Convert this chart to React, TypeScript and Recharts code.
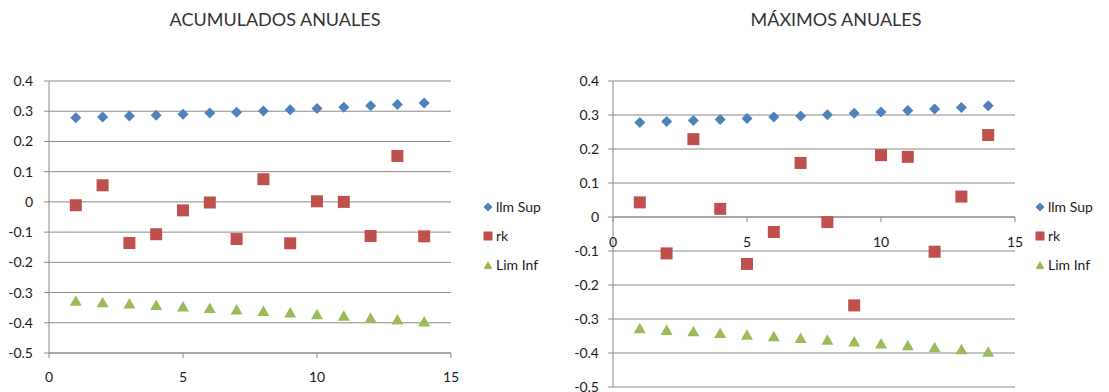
import { ScatterChart, Scatter, XAxis, YAxis, CartesianGrid, ReferenceLine } from 'recharts';

const years = [1, 2, 3, 4, 5, 6, 7, 8, 9, 10, 11, 12, 13, 14];
const limSup = [0.278, 0.281, 0.284, 0.287, 0.29, 0.294, 0.297, 0.301, 0.305, 0.309, 0.313, 0.318, 0.322, 0.327];
const limInf = [-0.327, -0.332, -0.336, -0.341, -0.346, -0.351, -0.356, -0.361, -0.366, -0.372, -0.377, -0.383, -0.389, -0.396];
const rkAcumulados = [-0.011, 0.055, -0.136, -0.107, -0.028, -0.002, -0.123, 0.075, -0.137, 0.002, 0.0, -0.113, 0.152, -0.114];
const rkMaximos = [0.043, -0.107, 0.229, 0.024, -0.138, -0.044, 0.159, -0.015, -0.26, 0.182, 0.177, -0.102, 0.06, 0.241];
const xTicks = [0, 5, 10, 15];
const yTicks = [-0.5, -0.4, -0.3, -0.2, -0.1, 0, 0.1, 0.2, 0.3, 0.4];
const seriesNames = ['llm Sup', 'rk', 'Lim Inf'];

const BLUE = '#4F81BD';
const RED = '#C0504D';
const GREEN = '#9BBB59';
const AXIS = '#8a8a8a';
const TXT = '#1a1a1a';
const FS = 14;

const toPoints = (vals: number[]) => years.map((x, i) => ({ x, y: vals[i] }));

const fmt = (v: number) => String(Math.round(v * 10) / 10);

const Diamond = (p: any) => (
  <path d={`M${p.cx},${p.cy - 5.5}L${p.cx + 5.5},${p.cy}L${p.cx},${p.cy + 5.5}L${p.cx - 5.5},${p.cy}Z`} fill={BLUE} />
);
const Square = (p: any) => <rect x={p.cx - 6} y={p.cy - 6} width={12} height={12} fill={RED} />;
const Triangle = (p: any) => (
  <path d={`M${p.cx},${p.cy - 5.5}L${p.cx + 6},${p.cy + 5}L${p.cx - 6},${p.cy + 5}Z`} fill={GREEN} />
);

const LegendBox = ({ left }: { left: number }) => {
  const icons = [
    <path d="M5,0.5L9.5,5L5,9.5L0.5,5Z" fill={BLUE} />,
    <rect x={0.5} y={0.5} width={9} height={9} fill={RED} />,
    <path d="M5,1L9.5,9L0.5,9Z" fill={GREEN} />,
  ];
  return (
    <div style={{ position: 'absolute', left, top: 192 }}>
      {seriesNames.map((n, i) => (
        <div key={n} style={{ display: 'flex', alignItems: 'center', height: 29, fontSize: 14, color: TXT }}>
          <svg width={10} height={10} style={{ marginRight: 3 }}>
            {icons[i]}
          </svg>
          {n}
        </div>
      ))}
    </div>
  );
};

// right chart: x axis crosses at y = 0
const RIGHT_H = 392;
const RIGHT_MARGIN = { top: 81, right: 94, bottom: 4, left: 0 };
const plotH = RIGHT_H - RIGHT_MARGIN.top - RIGHT_MARGIN.bottom - 1;
const zeroOffset = (plotH * (0 - yTicks[0])) / (yTicks[yTicks.length - 1] - yTicks[0]);

const ZeroTick = (p: any) => {
  const y0 = p.y - zeroOffset;
  return (
    <g>
      <line x1={p.x} x2={p.x} y1={y0} y2={y0 + 5} stroke={AXIS} />
      <text x={p.x} y={y0 + 30} textAnchor="middle" fontSize={FS} fill={TXT}>
        {p.payload.value}
      </text>
    </g>
  );
};

export default function App() {
  return (
    <div style={{ position: 'absolute', left: 0, top: 0, width: 1109, height: 392, background: '#fff', fontFamily: 'Lato' }}>
      <div style={{ position: 'absolute', left: 0, width: 550, top: 8, textAlign: 'center', fontSize: 18, color: '#333' }}>
        ACUMULADOS ANUALES
      </div>
      <div style={{ position: 'absolute', left: 560, width: 552, top: 8, textAlign: 'center', fontSize: 18, color: '#333' }}>
        MÁXIMOS ANUALES
      </div>

      <div style={{ position: 'absolute', left: 0, top: 0 }}>
        <ScatterChart width={555} height={392} margin={{ top: 81, right: 104, bottom: 0, left: 0 }}>
          <CartesianGrid vertical={false} stroke={AXIS} />
          <XAxis
            type="number"
            dataKey="x"
            domain={[0, 15]}
            ticks={xTicks}
            interval={0}
            height={39}
            stroke={AXIS}
            tickSize={5}
            tickMargin={14}
            tick={{ fill: TXT, fontSize: FS }}
          />
          <YAxis
            type="number"
            dataKey="y"
            domain={[-0.5, 0.4]}
            ticks={yTicks}
            interval={0}
            width={49}
            stroke={AXIS}
            tickSize={5}
            tickMargin={11}
            tickFormatter={fmt}
            tick={{ fill: TXT, fontSize: FS }}
          />
          <Scatter name="llm Sup" data={toPoints(limSup)} shape={Diamond} isAnimationActive={false} />
          <Scatter name="rk" data={toPoints(rkAcumulados)} shape={Square} isAnimationActive={false} />
          <Scatter name="Lim Inf" data={toPoints(limInf)} shape={Triangle} isAnimationActive={false} />
        </ScatterChart>
      </div>
      <LegendBox left={483} />

      <div style={{ position: 'absolute', left: 555, top: 0 }}>
        <ScatterChart width={554} height={RIGHT_H} margin={RIGHT_MARGIN}>
          <CartesianGrid vertical={false} stroke={AXIS} />
          <XAxis
            type="number"
            dataKey="x"
            domain={[0, 15]}
            ticks={xTicks}
            interval={0}
            height={1}
            axisLine={false}
            tickLine={false}
            tickSize={0}
            tickMargin={0}
            tick={ZeroTick}
          />
          <YAxis
            type="number"
            dataKey="y"
            domain={[-0.5, 0.4]}
            ticks={yTicks}
            interval={0}
            width={58}
            stroke={AXIS}
            tickSize={5}
            tickMargin={9}
            tickFormatter={fmt}
            tick={{ fill: TXT, fontSize: FS }}
          />
          <ReferenceLine y={0} stroke={AXIS} />
          <Scatter name="llm Sup" data={toPoints(limSup)} shape={Diamond} isAnimationActive={false} />
          <Scatter name="rk" data={toPoints(rkMaximos)} shape={Square} isAnimationActive={false} />
          <Scatter name="Lim Inf" data={toPoints(limInf)} shape={Triangle} isAnimationActive={false} />
        </ScatterChart>
      </div>
      <LegendBox left={1035} />
    </div>
  );
}
